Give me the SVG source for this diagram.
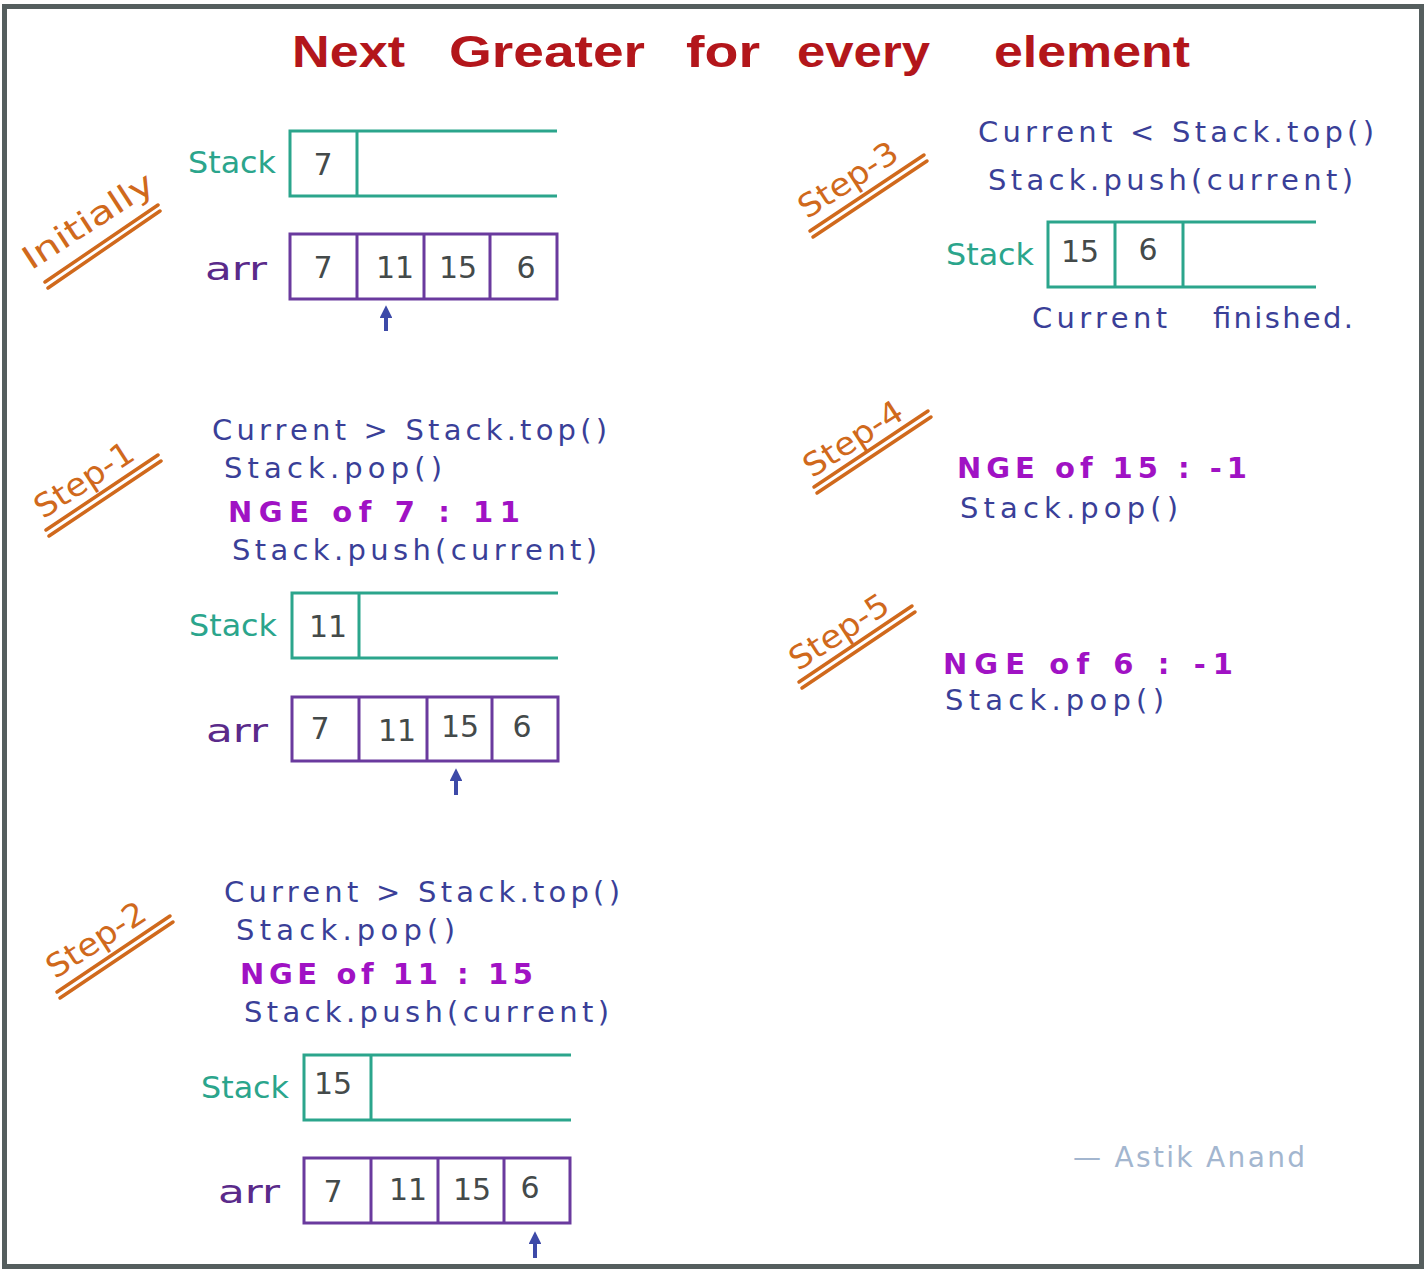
<svg xmlns="http://www.w3.org/2000/svg" width="1427" height="1274" viewBox="0 0 1427 1274">
<defs>
<marker id="ah" viewBox="0 0 10 10" refX="7" refY="5" markerWidth="3.6" markerHeight="3.2" orient="auto" markerUnits="strokeWidth">
<path d="M0,0 L10,5 L0,10 Z" fill="#3d4aa8"/>
</marker>
</defs>
<style>
.title{font-family:"Liberation Sans",Arial,sans-serif;font-weight:bold;font-size:44px;fill:#b3161b}
.code{font-family:"DejaVu Sans",sans-serif;font-size:29px;fill:#3a3f98}
.nge{font-family:"DejaVu Sans",sans-serif;font-weight:bold;font-size:29px;fill:#a012c4}
.lblS{font-family:"DejaVu Sans",sans-serif;font-size:30px;fill:#2ba58c}
.lblA{font-family:"DejaVu Sans",sans-serif;font-size:32px;fill:#5a2a8a}
.num{font-family:"DejaVu Sans",sans-serif;font-size:30px;fill:#444a4a;text-anchor:middle}
.step{font-family:"DejaVu Sans",sans-serif;font-size:32px;fill:#d0691c;text-anchor:middle}
.ul{stroke:#d0691c;stroke-width:3.5;fill:none;stroke-linecap:round}
.stk{stroke:#2ba58c;stroke-width:3;fill:none}
.arr{stroke:#6a3a9e;stroke-width:3;fill:none}
.ptr{stroke:#3d4aa8;stroke-width:4;fill:none}
.sig{font-family:"DejaVu Sans",sans-serif;font-size:28px;fill:#a3b6cf}
</style>
<rect x="0" y="0" width="1427" height="1274" fill="#ffffff"/>
<rect x="4.5" y="6.5" width="1417" height="1260" fill="none" stroke="#555e5e" stroke-width="5"/>

<g id="title">
<text class="title" x="292" y="67" textLength="113" lengthAdjust="spacingAndGlyphs">Next</text>
<text class="title" x="449" y="67" textLength="196" lengthAdjust="spacingAndGlyphs">Greater</text>
<text class="title" x="686" y="67" textLength="74" lengthAdjust="spacingAndGlyphs">for</text>
<text class="title" x="797" y="67" textLength="133" lengthAdjust="spacingAndGlyphs">every</text>
<text class="title" x="994" y="67" textLength="196" lengthAdjust="spacingAndGlyphs">element</text>
</g>

<g id="initially">
<text class="step" transform="translate(94,230) rotate(-33)" textLength="150" lengthAdjust="spacingAndGlyphs">Initially</text>
<line class="ul" x1="45" y1="282" x2="158" y2="205"/>
<line class="ul" x1="48" y1="288" x2="160" y2="211"/>
<text class="lblS" x="188" y="173" textLength="88" lengthAdjust="spacingAndGlyphs">Stack</text>
<path class="stk" d="M557,131 H290 V196 H557 M357,131 V196"/>
<text class="num" x="323" y="175">7</text>
<text class="lblA" x="205" y="280" textLength="62" lengthAdjust="spacingAndGlyphs">arr</text>
<path class="arr" d="M290,234 H557 V299 H290 Z M357,234 V299 M424,234 V299 M490,234 V299"/>
<text class="num" x="323" y="278">7</text>
<text class="num" x="395" y="278">11</text>
<text class="num" x="458" y="278">15</text>
<text class="num" x="526" y="278">6</text>
</g>

<g id="step1">
<text class="step" transform="translate(90,489) rotate(-33)" textLength="112" lengthAdjust="spacingAndGlyphs">Step-1</text>
<line class="ul" x1="46" y1="530" x2="158" y2="455"/>
<line class="ul" x1="49" y1="536" x2="161" y2="461"/>
<text class="code" x="212" y="440" textLength="395" lengthAdjust="spacing">Current &gt; Stack.top()</text>
<text class="code" x="224" y="478" textLength="218" lengthAdjust="spacing">Stack.pop()</text>
<text class="nge" x="228" y="522" textLength="292" lengthAdjust="spacing">NGE  of 7 : 11</text>
<text class="code" x="232" y="560" textLength="365" lengthAdjust="spacing">Stack.push(current)</text>
<text class="lblS" x="189" y="636" textLength="88" lengthAdjust="spacingAndGlyphs">Stack</text>
<path class="stk" d="M558,593 H292 V658 H558 M359,593 V658"/>
<text class="num" x="328" y="637">11</text>
<text class="lblA" x="206" y="742" textLength="62" lengthAdjust="spacingAndGlyphs">arr</text>
<path class="arr" d="M292,697 H558 V761 H292 Z M359,697 V761 M427,697 V761 M492,697 V761"/>
<text class="num" x="320" y="739">7</text>
<text class="num" x="397" y="741">11</text>
<text class="num" x="460" y="737">15</text>
<text class="num" x="522" y="737">6</text>
</g>

<g id="step2">
<text class="step" transform="translate(102,949) rotate(-33)" textLength="112" lengthAdjust="spacingAndGlyphs">Step-2</text>
<line class="ul" x1="57" y1="992" x2="170" y2="916"/>
<line class="ul" x1="60" y1="998" x2="173" y2="922"/>
<text class="code" x="224" y="902" textLength="396" lengthAdjust="spacing">Current &gt; Stack.top()</text>
<text class="code" x="236" y="940" textLength="219" lengthAdjust="spacing">Stack.pop()</text>
<text class="nge" x="240" y="984" textLength="293" lengthAdjust="spacing">NGE  of 11 : 15</text>
<text class="code" x="244" y="1022" textLength="365" lengthAdjust="spacing">Stack.push(current)</text>
<text class="lblS" x="201" y="1098" textLength="88" lengthAdjust="spacingAndGlyphs">Stack</text>
<path class="stk" d="M571,1055 H304 V1120 H571 M371,1055 V1120"/>
<text class="num" x="333" y="1094">15</text>
<text class="lblA" x="218" y="1203" textLength="62" lengthAdjust="spacingAndGlyphs">arr</text>
<path class="arr" d="M304,1158 H570 V1223 H304 Z M371,1158 V1223 M438,1158 V1223 M504,1158 V1223"/>
<text class="num" x="333" y="1202">7</text>
<text class="num" x="408" y="1200">11</text>
<text class="num" x="472" y="1200">15</text>
<text class="num" x="530" y="1198">6</text>
</g>

<g id="step3">
<text class="step" transform="translate(854,189) rotate(-33)" textLength="112" lengthAdjust="spacingAndGlyphs">Step-3</text>
<line class="ul" x1="810" y1="231" x2="924" y2="155"/>
<line class="ul" x1="813" y1="237" x2="927" y2="161"/>
<text class="code" x="978" y="142" textLength="396" lengthAdjust="spacing">Current &lt; Stack.top()</text>
<text class="code" x="988" y="190" textLength="365" lengthAdjust="spacing">Stack.push(current)</text>
<text class="lblS" x="946" y="265" textLength="88" lengthAdjust="spacingAndGlyphs">Stack</text>
<path class="stk" d="M1316,222 H1048 V287 H1316 M1115,222 V287 M1183,222 V287"/>
<text class="num" x="1080" y="262">15</text>
<text class="num" x="1148" y="260">6</text>
<text class="code" x="1032" y="328" textLength="135" lengthAdjust="spacing">Current</text>
<text class="code" x="1213" y="328" textLength="140" lengthAdjust="spacing">finished.</text>
</g>

<g id="step4">
<text class="step" transform="translate(859,448) rotate(-33)" textLength="112" lengthAdjust="spacingAndGlyphs">Step-4</text>
<line class="ul" x1="814" y1="487" x2="928" y2="411"/>
<line class="ul" x1="817" y1="493" x2="931" y2="417"/>
<text class="nge" x="957" y="478" textLength="290" lengthAdjust="spacing">NGE  of 15 :  -1</text>
<text class="code" x="960" y="518" textLength="218" lengthAdjust="spacing">Stack.pop()</text>
</g>

<g id="step5">
<text class="step" transform="translate(845,641) rotate(-33)" textLength="112" lengthAdjust="spacingAndGlyphs">Step-5</text>
<line class="ul" x1="799" y1="682" x2="912" y2="606"/>
<line class="ul" x1="802" y1="688" x2="915" y2="612"/>
<text class="nge" x="943" y="674" textLength="290" lengthAdjust="spacing">NGE  of  6 :  -1</text>
<text class="code" x="945" y="710" textLength="219" lengthAdjust="spacing">Stack.pop()</text>
</g>

<g id="connectors">
<line class="ptr" x1="386" y1="331" x2="386" y2="309" marker-end="url(#ah)"/>
<line class="ptr" x1="456" y1="795" x2="456" y2="772" marker-end="url(#ah)"/>
<line class="ptr" x1="535" y1="1258" x2="535" y2="1235" marker-end="url(#ah)"/>
</g>

<g id="signature">
<text class="sig" x="1073" y="1167" textLength="232" lengthAdjust="spacing">— Astik Anand</text>
</g>
</svg>
